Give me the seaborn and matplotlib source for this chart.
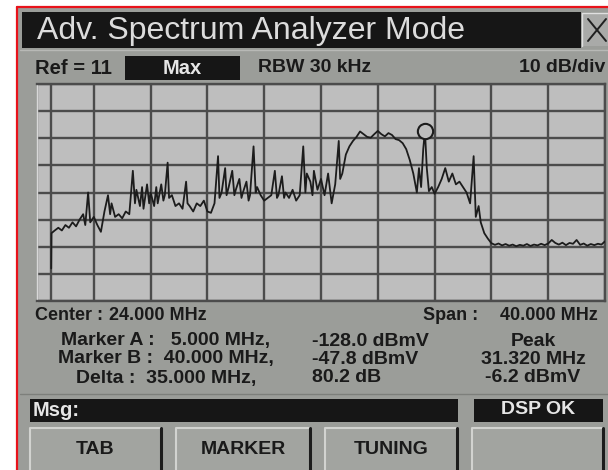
import matplotlib
matplotlib.use("Agg")
import matplotlib.pyplot as plt
from matplotlib.patches import Rectangle
import seaborn as sns

# sweep settings shown on screen
center_mhz = 24.0
span_mhz = 40.0
ref_dbmv = 11
db_per_div = 10
n_hdiv = 10
n_vdiv = 8

marker_a_mhz = 5.0
marker_b_mhz = 40.0
peak_mhz = 31.32
peak_dbmv = -6.2

# trace (MHz, dBmV)
trace_freq = [
    5.00, 5.02, 5.25, 5.50, 5.75, 6.00, 6.25, 6.50, 6.75, 7.00, 7.25, 7.40, 7.60, 7.75, 8.00,
    8.25, 8.50, 8.75, 9.00, 9.15, 9.25, 9.50, 9.75, 10.00, 10.25, 10.50, 10.75, 10.90, 11.00,
    11.25, 11.40, 11.50, 11.75, 11.90, 12.00,
    12.25, 12.40, 12.50, 12.75, 12.90, 13.00, 13.20, 13.30, 13.50, 13.75, 14.00, 14.25, 14.50,
    14.60, 14.75, 15.00, 15.25, 15.50, 15.75, 16.00,
    16.25, 16.50, 16.75, 16.85, 17.00, 17.25, 17.35, 17.50, 17.75, 17.90, 18.00, 18.25, 18.40,
    18.50, 18.75, 18.90, 19.00, 19.25, 19.40, 19.50, 19.75, 20.00,
    20.25, 20.50, 20.75, 20.90, 21.00, 21.25, 21.40, 21.50, 21.75, 22.00, 22.25, 22.50, 22.75,
    22.90, 23.00, 23.25, 23.40, 23.50, 23.75, 24.00,
    24.25, 24.50, 24.75, 25.00, 25.25, 25.35, 25.50, 25.75, 26.00, 26.25, 26.50, 26.75, 27.00,
    27.25, 27.50, 27.75, 28.00,
    28.25, 28.50, 28.75, 29.00, 29.25, 29.50, 29.75, 30.00, 30.25, 30.50, 30.75, 30.90, 31.05,
    31.20, 31.32, 31.45, 31.60, 31.80, 32.00,
    32.25, 32.50, 32.75, 33.00, 33.25, 33.50, 33.75, 34.00, 34.25, 34.50, 34.75, 34.90, 35.10,
    35.25, 35.50, 35.75, 36.00,
    36.25, 36.50, 36.75, 37.00, 37.25, 37.50, 37.75, 38.00, 38.25, 38.50, 38.75, 39.00, 39.25,
    39.50, 39.75, 40.00, 40.25, 40.50, 40.75, 41.00, 41.25, 41.50, 41.75, 42.00, 42.25, 42.50,
    42.75, 43.00, 43.25, 43.50, 43.75, 44.00,
]
trace_level = [
    -57, -44, -43, -42, -43, -41, -42, -40, -41.5, -39, -37, -41, -29, -40, -38,
    -41, -43.5, -36, -30, -37, -33, -38, -37, -38.5, -36, -37, -21, -33, -28,
    -34, -27, -35, -26, -33, -29,
    -34, -27, -33, -26, -32, -30, -18, -31, -30, -34, -33, -35, -25,
    -33, -34, -36, -33, -34, -32, -36,
    -36.5, -33, -15.6, -31, -29, -20, -30, -27, -21, -30, -28, -24, -31,
    -29, -25, -32, -30, -12, -29, -27, -30, -32,
    -31, -30, -21, -31, -30, -23, -31, -29, -31, -28, -32, -30, -12,
    -29, -22, -25, -30, -21, -28, -24,
    -30, -22, -33, -26, -10, -24, -22, -15, -12, -10, -8.5, -6.5, -7.5,
    -8.5, -8.8, -7.5, -6.3,
    -7.5, -8.3, -7.1, -7.8, -9.3, -9.7, -10.8, -13, -17, -22, -29, -20, -27,
    -13, -6.2, -20, -28.5, -27, -29.5,
    -27, -24, -20, -25, -22, -26, -25, -27, -29, -33, -15.6, -38, -34,
    -40, -44, -46, -47.7,
    -48.3, -47.8, -48.5, -48.0, -48.6, -48.2, -48.8, -48.3, -48.6, -48.0, -48.7, -48.2, -48.5,
    -47.9, -48.4, -47.8, -46.5, -47.6, -48.2, -47.5, -48.4, -47.6, -47.9, -46.5, -48.3, -47.8,
    -48.6, -48.0, -48.4, -47.9, -48.2, -47.0,
]

# readout texts
title_text = "Adv. Spectrum Analyzer Mode"
ref_text = "Ref = 11"
mode_text = "Max"
rbw_text = "RBW 30 kHz"
scale_text = "10 dB/div"
center_label, center_value = "Center :", "24.000 MHz"
span_label, span_value = "Span :", "40.000 MHz"
marker_rows = [
    ("Marker A :   5.000 MHz,", "-128.0 dBmV", "Peak"),
    ("Marker B :  40.000 MHz,", "-47.8 dBmV", "31.320 MHz"),
    ("Delta :  35.000 MHz,", "80.2 dB", "-6.2 dBmV"),
]
button_labels = ["TAB", "MARKER", "TUNING", ""]

PANEL = "#9b9d99"
SCREEN = "#bebebe"
DARK = "#161616"
GRID = "#4c4c4c"
INK = "#1a1a1a"

sns.set_theme(style="white")
plt.rcParams["font.family"] = ["Liberation Sans", "DejaVu Sans"]

W, H = 608, 470
fig = plt.figure(figsize=(W / 100, H / 100), dpi=100)
fig.patch.set_facecolor("white")

# background panel drawn in pixel coordinates
bg = fig.add_axes([0, 0, 1, 1])
bg.set_xlim(0, W)
bg.set_ylim(H, 0)
bg.axis("off")


def box(x0, y0, x1, y1, color, **kw):
    bg.add_patch(Rectangle((x0, y0), x1 - x0, y1 - y0, facecolor=color, edgecolor="none", **kw))


box(17, 7, W, H, PANEL)
bg.plot([17, 17], [7, H], color="#e8121a", lw=1.6)
bg.plot([17, W], [7, 7], color="#e8121a", lw=1.6)

# title bar
box(22, 12, 581, 48, DARK)
bg.text(37, 31, title_text, color="#dcdcdc", fontsize=23, va="center", ha="left")
box(582, 13, W, 46, "#a9aaa8")
bg.plot([582, 582, W], [46, 13, 13], color="#e0e0e0", lw=1)
bg.plot([588, 606], [19, 41], color="#202020", lw=1.4)
bg.plot([588, 606], [41, 19], color="#202020", lw=1.4)
bg.plot([20, W], [50, 50], color="#b8b9b6", lw=1)

# status row
bold = dict(fontweight="bold", va="center")
bg.text(35, 68, ref_text, color=INK, fontsize=14.5, ha="left", **bold)
box(125, 56, 240, 80, DARK)
bg.text(182, 68, mode_text, color="#e6e6e6", fontsize=14.5, ha="center", **bold)
bg.text(258, 68, rbw_text, color=INK, fontsize=14, ha="left", **bold)
bg.text(605, 68, scale_text, color=INK, fontsize=14, ha="right", **bold)

# readouts under the screen
bg.text(35, 316, center_label, color=INK, fontsize=13, ha="left", **bold)
bg.text(207, 316, center_value, color=INK, fontsize=13, ha="right", **bold)
bg.text(478, 316, span_label, color=INK, fontsize=13, ha="right", **bold)
bg.text(598, 316, span_value, color=INK, fontsize=13, ha="right", **bold)
row_y = [341, 359, 378]
for (left, mid, right), y in zip(marker_rows, row_y):
    bg.text(166, y, left, color=INK, fontsize=14, ha="center", **bold)
    bg.text(312, y, mid, color=INK, fontsize=14, ha="left", **bold)
    bg.text(533, y, right, color=INK, fontsize=14, ha="center", **bold)
bg.plot([20, W], [394, 394], color="#7d7f7b", lw=1)

# message bars
box(30, 399, 458, 422, DARK)
bg.text(33, 410, "Msg:", color="#e6e6e6", fontsize=14.5, ha="left", **bold)
box(474, 399, 603, 422, DARK)
bg.text(538, 410, "DSP OK", color="#e6e6e6", fontsize=14, ha="center", **bold)

# soft buttons
btn_x = [(30, 161), (176, 310), (325, 457), (472, 603)]
for (x0, x1), label in zip(btn_x, button_labels):
    box(x0, 428, x1, H, "#a2a4a0")
    bg.plot([x0, x0, x1], [H, 428, 428], color="#d2d3d0", lw=1.5)
    bg.plot([x1, x1], [428, H], color="#1c1c1c", lw=2.2)
    bg.text((x0 + x1) / 2, 449, label, color=INK, fontsize=14, ha="center", **bold)

# spectrum screen
x0, x1, y0, y1 = 37, 605, 84, 301
ax = fig.add_axes([x0 / W, 1 - y1 / H, (x1 - x0) / W, (y1 - y0) / H])
ax.set_facecolor(SCREEN)
f_lo = center_mhz - span_mhz / 2
f_hi = center_mhz + span_mhz / 2
bottom = ref_dbmv - n_vdiv * db_per_div
ax.set_xlim(f_lo, f_hi)
ax.set_ylim(bottom, ref_dbmv)
ax.set_xticks([f_lo + i * span_mhz / n_hdiv for i in range(n_hdiv + 1)])
ax.set_yticks([bottom + i * db_per_div for i in range(n_vdiv + 1)])
ax.set_xticklabels([])
ax.set_yticklabels([])
ax.tick_params(length=0)
ax.grid(True, color=GRID, lw=1.7)
for side, sp in ax.spines.items():
    sp.set_color(GRID)
    sp.set_linewidth(1.7)
ax.spines["left"].set_color("#d8d8d8")
ax.spines["left"].set_linewidth(1.0)

ax.axvline(marker_a_mhz, color=GRID, lw=1.7, zorder=1)

sns.lineplot(x=trace_freq, y=trace_level, ax=ax, color="#1c1c1c", lw=1.3,
             estimator=None, sort=False, zorder=3)
ax.plot([peak_mhz], [peak_dbmv], marker="o", ms=11, mfc=SCREEN, mec="#1c1c1c",
        mew=1.5, ls="none", zorder=4)
ax.set_xlabel("")
ax.set_ylabel("")

fig.savefig("out.png", dpi=100)
